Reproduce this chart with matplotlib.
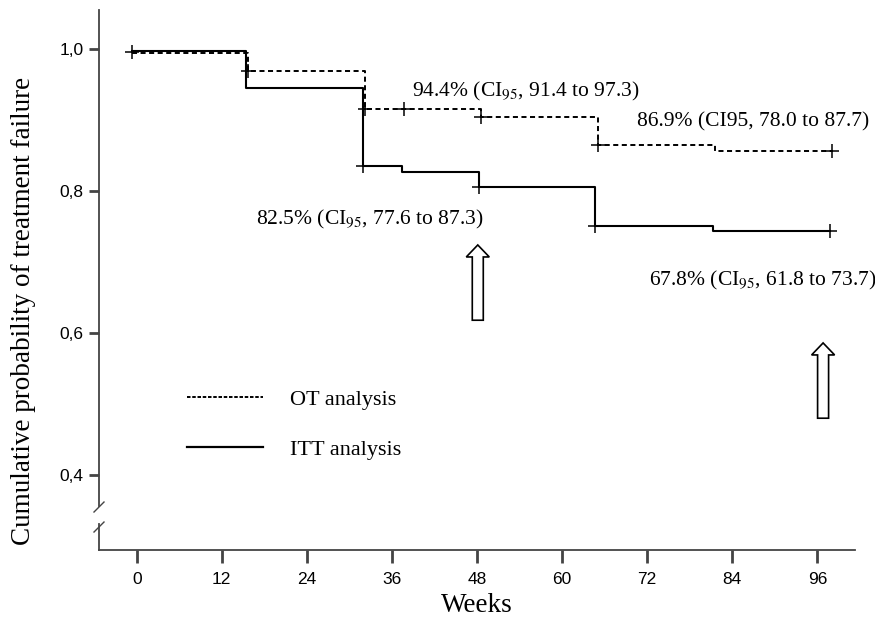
import matplotlib
matplotlib.use("Agg")
import matplotlib.pyplot as plt
from matplotlib.patches import FancyArrow
from matplotlib.lines import Line2D

plt.rcParams['mathtext.fontset'] = 'stix'
SERIF = ['Liberation Serif', 'DejaVu Serif']
SANS = ['Liberation Sans Narrow', 'Liberation Sans', 'DejaVu Sans']

# ---- data ----
itt_weeks = [-0.7, 15.4, 31.9, 37.4, 48.3, 64.6, 81.3, 97.8]
itt_prob = [0.997, 0.945, 0.835, 0.827, 0.806, 0.750, 0.744, 0.744]
itt_cens_weeks = [31.9, 48.3, 64.6, 97.8]
itt_cens_prob = [0.835, 0.806, 0.750, 0.744]

ot_weeks = [-0.7, 15.7, 32.2, 48.5, 65.1, 81.6, 98.0]
ot_prob = [0.995, 0.969, 0.915, 0.904, 0.865, 0.857, 0.857]
ot_cens_weeks = [-0.7, 15.7, 32.2, 37.7, 48.5, 65.1, 98.0]
ot_cens_prob = [0.996, 0.969, 0.915, 0.915, 0.904, 0.865, 0.857]

x_ticks = [0, 12, 24, 36, 48, 60, 72, 84, 96]
y_ticks = [0.4, 0.6, 0.8, 1.0]
y_ticklabels = ['0,4', '0,6', '0,8', '1,0']

annotations = [
    (38.8, 0.933, r'94.4% (CI$_{95}$, 91.4 to 97.3)'),
    (70.5, 0.8906, '86.9% (CI95, 78.0 to 87.7)'),
    (16.8, 0.7535, r'82.5% (CI$_{95}$, 77.6 to 87.3)'),
    (72.2, 0.6676, r'67.8% (CI$_{95}$, 61.8 to 73.7)'),
]
# arrows: (week, bottom, top)
arrows = [(48.1, 0.618, 0.724), (96.8, 0.480, 0.586)]

# ---- figure ----
W, H = 875, 626
fig = plt.figure(figsize=(W / 100, H / 100), dpi=100)
ax = fig.add_axes([99 / W, 1 - 550 / H, (855 - 99) / W, (550 - 10) / H])
xmin, xmax = -5.32, 101.3
ymin, ymax = 0.2944, 1.0549
ax.set_xlim(xmin, xmax)
ax.set_ylim(ymin, ymax)

axcol = '#444444'
ax.step(ot_weeks, ot_prob, where='post', color='black', lw=1.4,
        linestyle=(0, (2.6, 1.8)), clip_on=False)
ax.step(itt_weeks, itt_prob, where='post', color='black', lw=1.5, clip_on=False)
ax.plot(ot_cens_weeks, ot_cens_prob, linestyle='none', marker='+', ms=10,
        mew=1.1, color='black', clip_on=False)
ax.plot(itt_cens_weeks, itt_cens_prob, linestyle='none', marker='+', ms=10,
        mew=1.1, color='black', clip_on=False)

for x, y, s in annotations:
    ax.text(x, y, s, fontsize=15.5, family=SERIF, va='baseline', ha='left',
            clip_on=False)

px_x = (xmax - xmin) / (855 - 99)
px_y = (ymax - ymin) / (550 - 10)
for x, y0, y1 in arrows:
    hl = 12 * px_y
    ax.add_patch(FancyArrow(x, y0, 0, y1 - y0, width=11 * px_x,
                            head_width=23 * px_x, head_length=hl,
                            length_includes_head=True, fc='white',
                            ec='black', lw=1.2))

# spines
for s in ['top', 'right']:
    ax.spines[s].set_visible(False)
ax.spines['left'].set_bounds(1 - (506 - 49) / 710, ymax)
ax.spines['left'].set_color(axcol)
ax.spines['bottom'].set_color(axcol)
ax.spines['left'].set_linewidth(1.3)
ax.spines['bottom'].set_linewidth(1.3)
yb = 1 - (524 - 49) / 710
ax.plot([xmin, xmin], [ymin, yb], color=axcol, lw=1.3, clip_on=False)
for yc in [1 - (507 - 49) / 710, 1 - (527 - 49) / 710]:
    ax.plot([xmin - 5 * px_x, xmin + 5 * px_x], [yc - 5 * px_y, yc + 5 * px_y],
            color=axcol, lw=1.0, clip_on=False)

ax.set_xticks(x_ticks)
ax.set_xticklabels([str(t) for t in x_ticks], family=SANS, fontsize=12.5)
ax.set_yticks(y_ticks)
ax.set_yticklabels(y_ticklabels, family=SANS, fontsize=12.5)
ax.tick_params(axis='x', length=9, width=2, color=axcol, pad=7)
ax.tick_params(axis='y', length=7, width=2, color=axcol, pad=4)

ax.set_xlabel('Weeks', family=SERIF, fontsize=19.5, labelpad=4)
ax.set_ylabel('Cumulative probability of treatment failure', family=SERIF,
              fontsize=19.5)
ax.yaxis.set_label_coords((36 - 99) / 756, (550 - 311) / 540)

# legend
h1 = Line2D([], [], color='black', lw=1.4, linestyle=(0, (1.8, 0.9)))
h2 = Line2D([], [], color='black', lw=1.6)
leg = ax.legend([h1, h2], ['OT analysis', 'ITT analysis'], frameon=False,
                prop={'family': SERIF, 'size': 16}, handlelength=3.4,
                handletextpad=1.25, labelspacing=1.35,
                loc='upper left', borderaxespad=0, borderpad=0,
                bbox_to_anchor=((187 - 99) / (855 - 99), 1 - (389 - 10) / 540))

fig.savefig('out.png', dpi=100)
